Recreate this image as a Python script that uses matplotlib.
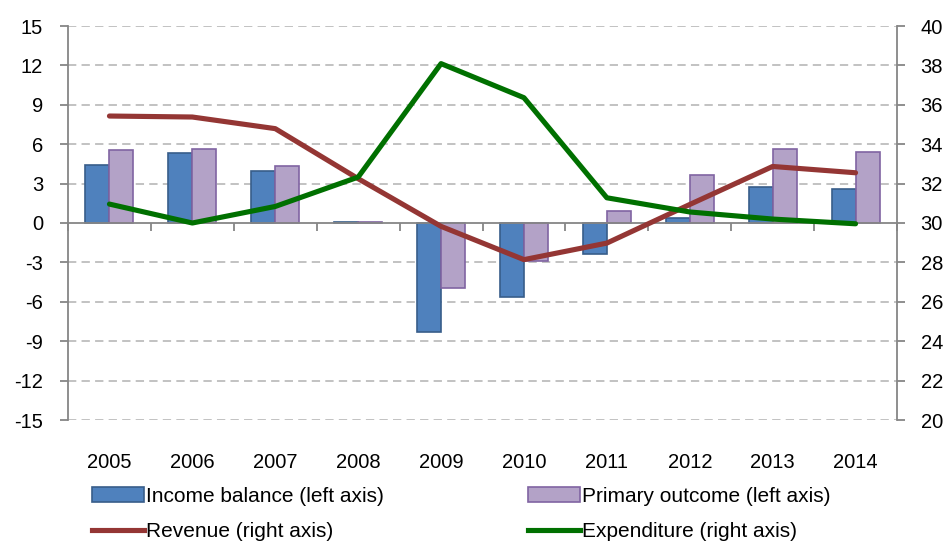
import numpy as np
import matplotlib
matplotlib.use('Agg')
from matplotlib import pyplot as plt
import matplotlib.transforms as mtransforms
from matplotlib.patches import Patch
from matplotlib.lines import Line2D

plt.rcParams['font.family'] = ['Liberation Sans', 'DejaVu Sans']
plt.rcParams['axes.unicode_minus'] = False

years = ['2005', '2006', '2007', '2008', '2009', '2010', '2011', '2012', '2013', '2014']
income_balance = [4.44, 5.35, 3.93, 0.1, -8.3, -5.67, -2.36, 0.38, 2.71, 2.56]
primary_outcome = [5.53, 5.66, 4.31, 0.1, -4.93, -2.9, 0.94, 3.65, 5.66, 5.38]
revenue = [35.43, 35.38, 34.79, 32.25, 29.83, 28.14, 28.98, 30.94, 32.87, 32.55]
expenditure = [30.96, 30.0, 30.84, 32.33, 38.09, 36.36, 31.28, 30.56, 30.2, 29.96]

c_blue, c_blue_edge = '#4F81BD', '#385D8A'
c_purple, c_purple_edge = '#B3A2C7', '#8064A2'
c_red = '#943634'
c_green = '#007000'
c_axis = '#868686'
c_grid = '#BDBDBD'

fig = plt.figure(figsize=(9.49, 5.42), dpi=100)
ax = fig.add_axes([68 / 949, 1 - 420 / 542, (897 - 68) / 949, (420 - 26) / 542])
ax2 = ax.twinx()

x = np.arange(len(years))
w = 0.29
ax.bar(x - w / 2, income_balance, w, color=c_blue, edgecolor=c_blue_edge, linewidth=1.2, zorder=3)
ax.bar(x + w / 2, primary_outcome, w, color=c_purple, edgecolor=c_purple_edge, linewidth=1.2, zorder=3)

ax2.plot(x, revenue, color=c_red, linewidth=3.7, solid_capstyle='round', solid_joinstyle='round')
ax2.plot(x, expenditure, color=c_green, linewidth=3.7, solid_capstyle='round', solid_joinstyle='round')

ax.set_xlim(-0.5, len(years) - 0.5)
ax.set_ylim(-15, 15)
ax.set_yticks(np.arange(-15, 16, 3))
ax2.set_ylim(20, 40)
ax2.set_yticks(np.arange(20, 41, 2))

# grid
for v in np.arange(-15, 16, 3):
    if v != 0:
        ax.axhline(v, color=c_grid, linestyle=(0, (4.6, 2.9)), linewidth=1.3, zorder=0)

for a in (ax, ax2):
    a.spines['top'].set_visible(False)
    for s in ('left', 'right', 'bottom'):
        a.spines[s].set_color(c_axis)
        a.spines[s].set_linewidth(1.3)

ax.spines['right'].set_visible(False)
ax2.spines['left'].set_visible(False)
ax2.spines['bottom'].set_visible(False)
ax.spines['bottom'].set_position(('data', 0))
ax.spines['bottom'].set_zorder(4)

ax.set_xticks(np.arange(-0.5, len(years), 1.0))
ax.set_xticklabels([])
ax.tick_params(axis='x', length=6, width=1.3, color=c_axis, direction='out')
ax.tick_params(axis='y', length=6, width=1.3, color=c_axis, labelsize=14.5, pad=12)
ax2.tick_params(axis='y', length=6, width=1.3, color=c_axis, labelsize=14.5, pad=11)

trans = mtransforms.blended_transform_factory(ax.transData, ax.transAxes)
for i, yr in enumerate(years):
    ax.text(i, -0.107, yr, transform=trans, ha='center', va='center', fontsize=14.5)

h_inc = Patch(facecolor=c_blue, edgecolor=c_blue_edge, linewidth=1.2)
h_pri = Patch(facecolor=c_purple, edgecolor=c_purple_edge, linewidth=1.2)
h_rev = Line2D([], [], color=c_red, linewidth=3.7)
h_exp = Line2D([], [], color=c_green, linewidth=3.7)

leg_kw = dict(loc='center left', ncol=1, frameon=False, fontsize=15,
              handlelength=2.5, handleheight=0.75, handletextpad=0.1,
              labelspacing=0.8, borderpad=0.0, borderaxespad=0.0)
fig.legend([h_inc, h_rev], ['Income balance (left axis)', 'Revenue (right axis)'],
           bbox_to_anchor=(92 / 949, 1 - 514 / 542), **leg_kw)
fig.legend([h_pri, h_exp], ['Primary outcome (left axis)', 'Expenditure (right axis)'],
           bbox_to_anchor=(528 / 949, 1 - 514 / 542), **leg_kw)

fig.savefig('out.png', dpi=100)
plt.close()
